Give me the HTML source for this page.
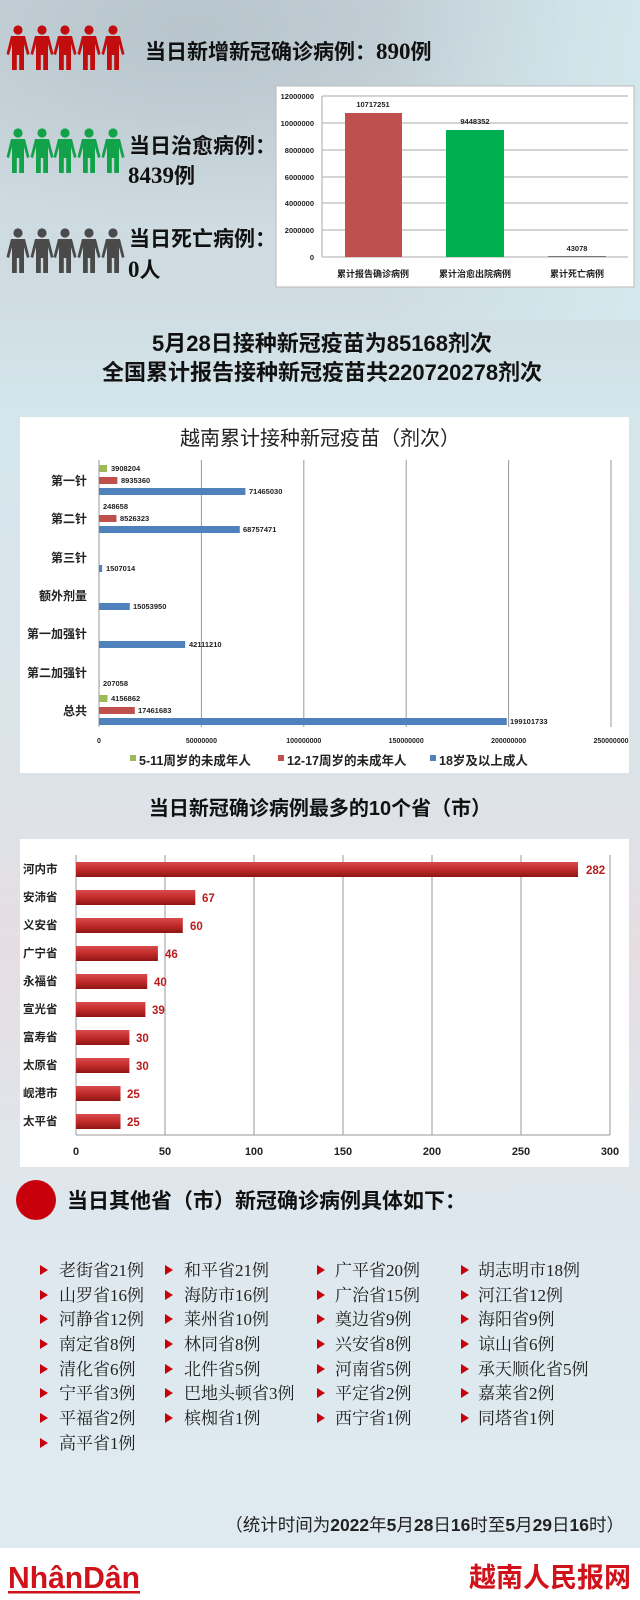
<!DOCTYPE html>
<html><head><meta charset="utf-8">
<style>
html,body{margin:0;padding:0}
body{width:640px;height:1600px;position:relative;overflow:hidden;
background:linear-gradient(180deg,#c9d6dc 0px,#cfdde2 300px,#d4e6ec 420px,#dde3e8 800px,#e6dde2 950px,#dfe6ec 1150px,#dde9ef 1350px,#dfeaf0 1548px);
font-family:"Liberation Sans","Noto Sans CJK SC",sans-serif}
svg{position:absolute;left:0;top:0}
</style></head><body>
<svg width="640" height="1600" viewBox="0 0 640 1600" xmlns="http://www.w3.org/2000/svg" font-family="Liberation Sans, Noto Sans CJK SC, sans-serif">
<defs>
<g id="p"><circle cx="0" cy="0" r="4.6"/><path d="M-7,6 L7,6 L11.5,24 L9,25 L6,14 L6,40 L1.2,40 L1.2,25 L-1.2,25 L-1.2,40 L-6,40 L-6,14 L-9,25 L-11.5,24 Z"/></g>
<linearGradient id="rb" x1="0" y1="0" x2="0" y2="1"><stop offset="0" stop-color="#d84a4a"/><stop offset="0.5" stop-color="#c32b2b"/><stop offset="1" stop-color="#8e1414"/></linearGradient>
<radialGradient id="bg1" cx="0.3" cy="0.1" r="0.6"><stop offset="0" stop-color="#aab8c0" stop-opacity="0.6"/><stop offset="1" stop-color="#aab8c0" stop-opacity="0"/></radialGradient>
<linearGradient id="bg2" x1="0" y1="0" x2="1" y2="0"><stop offset="0.6" stop-color="#d6eef2" stop-opacity="0"/><stop offset="1" stop-color="#d6eef2" stop-opacity="0.7"/></linearGradient>
</defs>
<rect x="0" y="0" width="640" height="320" fill="url(#bg1)"/>
<rect x="0" y="0" width="640" height="320" fill="url(#bg2)"/>

<g fill="#c10d0d">
<use href="#p" x="18" y="30"/><use href="#p" x="42" y="30"/><use href="#p" x="65" y="30"/><use href="#p" x="89" y="30"/><use href="#p" x="113" y="30"/></g>
<g fill="#12a34a">
<use href="#p" x="18" y="133"/><use href="#p" x="42" y="133"/><use href="#p" x="65" y="133"/><use href="#p" x="89" y="133"/><use href="#p" x="113" y="133"/></g>
<g fill="#4a4a4a">
<use href="#p" x="18" y="233"/><use href="#p" x="42" y="233"/><use href="#p" x="65" y="233"/><use href="#p" x="89" y="233"/><use href="#p" x="113" y="233"/></g>
<g font-weight="bold" fill="#111" font-size="21">
<text x="145" y="59">当日新增新冠确诊病例：<tspan font-family="Liberation Serif, serif" font-size="23">890</tspan>例</text>
<text x="129" y="153">当日治愈病例：</text>
<text x="128" y="183"><tspan font-family="Liberation Serif, serif" font-size="23">8439</tspan>例</text>
<text x="129" y="246">当日死亡病例：</text>
<text x="128" y="277"><tspan font-family="Liberation Serif, serif" font-size="23">0</tspan>人</text>
</g>

<rect x="276" y="86" width="358" height="201" fill="#fff" stroke="#bbb"/>
<g stroke="#aaa" stroke-width="1">
<line x1="322" y1="96" x2="628" y2="96"/><line x1="322" y1="123" x2="628" y2="123"/><line x1="322" y1="150" x2="628" y2="150"/><line x1="322" y1="177" x2="628" y2="177"/><line x1="322" y1="203" x2="628" y2="203"/><line x1="322" y1="230" x2="628" y2="230"/><line x1="322" y1="257" x2="628" y2="257"/>
<line x1="322" y1="96" x2="322" y2="257"/></g>
<rect x="345" y="113" width="57" height="144" fill="#c0504d"/>
<rect x="446" y="130" width="58" height="127" fill="#00b050"/>
<rect x="548" y="256" width="58" height="1" fill="#777"/>
<g font-size="7.5" font-weight="bold" text-anchor="end" fill="#222">
<text x="314" y="99">12000000</text><text x="314" y="126">10000000</text><text x="314" y="153">8000000</text><text x="314" y="180">6000000</text><text x="314" y="206">4000000</text><text x="314" y="233">2000000</text><text x="314" y="260">0</text></g>
<g font-size="7.5" font-weight="bold" text-anchor="middle" fill="#222">
<text x="373" y="107">10717251</text><text x="475" y="124">9448352</text><text x="577" y="251">43078</text></g>
<g font-size="9" font-weight="bold" text-anchor="middle" fill="#222">
<text x="373" y="277">累计报告确诊病例</text><text x="475" y="277">累计治愈出院病例</text><text x="577" y="277">累计死亡病例</text></g>

<g font-size="22" font-weight="bold" text-anchor="middle" fill="#111">
<text x="322" y="351">5月28日接种新冠疫苗为85168剂次</text>
<text x="322" y="380">全国累计报告接种新冠疫苗共220720278剂次</text></g>

<rect x="20" y="417" width="609" height="356" fill="#fff"/>
<text x="320" y="445" font-size="20" text-anchor="middle" fill="#222">越南累计接种新冠疫苗（剂次）</text>
<g stroke="#999" stroke-width="1">
<line x1="99" y1="460" x2="99" y2="727"/><line x1="201.4" y1="460" x2="201.4" y2="727"/><line x1="303.8" y1="460" x2="303.8" y2="727"/><line x1="406.2" y1="460" x2="406.2" y2="727"/><line x1="508.6" y1="460" x2="508.6" y2="727"/><line x1="611" y1="460" x2="611" y2="727"/></g>
<g font-size="12" font-weight="bold" text-anchor="end" fill="#222">
<text x="87" y="485">第一针</text><text x="87" y="523">第二针</text><text x="87" y="562">第三针</text><text x="87" y="600">额外剂量</text><text x="87" y="638">第一加强针</text><text x="87" y="677">第二加强针</text><text x="87" y="715">总共</text></g>
<g>
<rect x="99" y="465" width="8" height="7" fill="#9bbb59"/>
<rect x="99" y="477" width="18.3" height="7" fill="#c0504d"/>
<rect x="99" y="488" width="146.4" height="7" fill="#4f81bd"/>
<rect x="99" y="503" width="0.6" height="7" fill="#9bbb59"/>
<rect x="99" y="515" width="17.5" height="7" fill="#c0504d"/>
<rect x="99" y="526" width="140.8" height="7" fill="#4f81bd"/>
<rect x="99" y="565" width="3.1" height="7" fill="#4f81bd"/>
<rect x="99" y="603" width="30.8" height="7" fill="#4f81bd"/>
<rect x="99" y="641" width="86.2" height="7" fill="#4f81bd"/>
<rect x="99" y="680" width="0.5" height="7" fill="#4f81bd"/>
<rect x="99" y="695" width="8.5" height="7" fill="#9bbb59"/>
<rect x="99" y="707" width="35.8" height="7" fill="#c0504d"/>
<rect x="99" y="718" width="407.8" height="7" fill="#4f81bd"/>
</g>
<g font-size="7.5" font-weight="bold" fill="#222">
<text x="111" y="471">3908204</text><text x="121" y="483">8935360</text><text x="249" y="494">71465030</text>
<text x="103" y="509">248658</text><text x="120" y="521">8526323</text><text x="243" y="532">68757471</text>
<text x="106" y="571">1507014</text><text x="133" y="609">15053950</text><text x="189" y="647">42111210</text>
<text x="103" y="686">207058</text><text x="111" y="701">4156862</text><text x="138" y="713">17461683</text><text x="510" y="724">199101733</text></g>
<g font-size="7" font-weight="bold" text-anchor="middle" fill="#222">
<text x="99" y="743">0</text><text x="201.4" y="743">50000000</text><text x="303.8" y="743">100000000</text><text x="406.2" y="743">150000000</text><text x="508.6" y="743">200000000</text><text x="611" y="743">250000000</text></g>
<g font-size="12.5" font-weight="bold" fill="#222">
<rect x="130" y="755" width="6" height="6" fill="#9bbb59"/><text x="139" y="765">5-11周岁的未成年人</text>
<rect x="278" y="755" width="6" height="6" fill="#c0504d"/><text x="287" y="765">12-17周岁的未成年人</text>
<rect x="430" y="755" width="6" height="6" fill="#4f81bd"/><text x="439" y="765">18岁及以上成人</text></g>

<text x="320" y="815" font-size="20" font-weight="bold" text-anchor="middle" fill="#111">当日新冠确诊病例最多的10个省（市）</text>
<rect x="20" y="839" width="609" height="328" fill="#fff"/>
<g stroke="#999" stroke-width="1">
<line x1="76" y1="855" x2="76" y2="1135"/><line x1="165" y1="855" x2="165" y2="1135"/><line x1="254" y1="855" x2="254" y2="1135"/><line x1="343" y1="855" x2="343" y2="1135"/><line x1="432" y1="855" x2="432" y2="1135"/><line x1="521" y1="855" x2="521" y2="1135"/><line x1="610" y1="855" x2="610" y2="1135"/><line x1="76" y1="1135" x2="610" y2="1135"/></g>
<g fill="url(#rb)">
<rect x="76" y="862" width="502" height="15"/>
<rect x="76" y="890" width="119.3" height="15"/>
<rect x="76" y="918" width="106.8" height="15"/>
<rect x="76" y="946" width="81.9" height="15"/>
<rect x="76" y="974" width="71.2" height="15"/>
<rect x="76" y="1002" width="69.4" height="15"/>
<rect x="76" y="1030" width="53.4" height="15"/>
<rect x="76" y="1058" width="53.4" height="15"/>
<rect x="76" y="1086" width="44.5" height="15"/>
<rect x="76" y="1114" width="44.5" height="15"/></g>
<g font-size="11.5" font-weight="bold" fill="#222">
<text x="23" y="873">河内市</text><text x="23" y="901">安沛省</text><text x="23" y="929">义安省</text><text x="23" y="957">广宁省</text><text x="23" y="985">永福省</text><text x="23" y="1013">宣光省</text><text x="23" y="1041">富寿省</text><text x="23" y="1069">太原省</text><text x="23" y="1097">岘港市</text><text x="23" y="1125">太平省</text></g>
<g font-size="11.5" font-weight="bold" fill="#b81c1c">
<text x="586" y="874">282</text><text x="202" y="902">67</text><text x="190" y="930">60</text><text x="165" y="958">46</text><text x="154" y="986">40</text><text x="152" y="1014">39</text><text x="136" y="1042">30</text><text x="136" y="1070">30</text><text x="127" y="1098">25</text><text x="127" y="1126">25</text></g>
<g font-size="11" font-weight="bold" text-anchor="middle" fill="#222">
<text x="76" y="1155">0</text><text x="165" y="1155">50</text><text x="254" y="1155">100</text><text x="343" y="1155">150</text><text x="432" y="1155">200</text><text x="521" y="1155">250</text><text x="610" y="1155">300</text></g>

<circle cx="36" cy="1200" r="20" fill="#c8000b"/>
<text x="67" y="1208" font-size="21" font-weight="bold" fill="#111">当日其他省（市）新冠确诊病例具体如下：</text>
<g fill="#c8000b">
<path d="M40,1265 l8,5 l-8,5z M165,1265 l8,5 l-8,5z M317,1265 l8,5 l-8,5z M461,1265 l8,5 l-8,5z"/>
<path d="M40,1290 l8,5 l-8,5z M165,1290 l8,5 l-8,5z M317,1290 l8,5 l-8,5z M461,1290 l8,5 l-8,5z"/>
<path d="M40,1314 l8,5 l-8,5z M165,1314 l8,5 l-8,5z M317,1314 l8,5 l-8,5z M461,1314 l8,5 l-8,5z"/>
<path d="M40,1339 l8,5 l-8,5z M165,1339 l8,5 l-8,5z M317,1339 l8,5 l-8,5z M461,1339 l8,5 l-8,5z"/>
<path d="M40,1364 l8,5 l-8,5z M165,1364 l8,5 l-8,5z M317,1364 l8,5 l-8,5z M461,1364 l8,5 l-8,5z"/>
<path d="M40,1388 l8,5 l-8,5z M165,1388 l8,5 l-8,5z M317,1388 l8,5 l-8,5z M461,1388 l8,5 l-8,5z"/>
<path d="M40,1413 l8,5 l-8,5z M165,1413 l8,5 l-8,5z M317,1413 l8,5 l-8,5z M461,1413 l8,5 l-8,5z"/>
<path d="M40,1438 l8,5 l-8,5z"/></g>
<g font-size="17" fill="#222" font-family="Liberation Serif, Noto Serif CJK SC, serif">
<text x="59" y="1276">老街省21例</text><text x="184" y="1276">和平省21例</text><text x="335" y="1276">广平省20例</text><text x="478" y="1276">胡志明市18例</text>
<text x="59" y="1301">山罗省16例</text><text x="184" y="1301">海防市16例</text><text x="335" y="1301">广治省15例</text><text x="478" y="1301">河江省12例</text>
<text x="59" y="1325">河静省12例</text><text x="184" y="1325">莱州省10例</text><text x="335" y="1325">奠边省9例</text><text x="478" y="1325">海阳省9例</text>
<text x="59" y="1350">南定省8例</text><text x="184" y="1350">林同省8例</text><text x="335" y="1350">兴安省8例</text><text x="478" y="1350">谅山省6例</text>
<text x="59" y="1375">清化省6例</text><text x="184" y="1375">北件省5例</text><text x="335" y="1375">河南省5例</text><text x="478" y="1375">承天顺化省5例</text>
<text x="59" y="1399">宁平省3例</text><text x="184" y="1399">巴地头顿省3例</text><text x="335" y="1399">平定省2例</text><text x="478" y="1399">嘉莱省2例</text>
<text x="59" y="1424">平福省2例</text><text x="184" y="1424">槟椥省1例</text><text x="335" y="1424">西宁省1例</text><text x="478" y="1424">同塔省1例</text>
<text x="59" y="1449">高平省1例</text></g>
<text x="624" y="1531" font-size="17.5" text-anchor="end" fill="#222">（统计时间为<tspan font-weight="bold">2022</tspan>年<tspan font-weight="bold">5</tspan>月<tspan font-weight="bold">28</tspan>日<tspan font-weight="bold">16</tspan>时至<tspan font-weight="bold">5</tspan>月<tspan font-weight="bold">29</tspan>日<tspan font-weight="bold">16</tspan>时）</text>

<rect x="0" y="1548" width="640" height="52" fill="#fff"/>
<text x="8" y="1588" font-size="31" font-weight="bold" fill="#d0121b" textLength="132" lengthAdjust="spacingAndGlyphs">NhânDân</text>
<rect x="8" y="1591" width="132" height="2.5" fill="#d0121b"/>
<text x="631" y="1587" font-size="27" font-weight="bold" text-anchor="end" fill="#d0121b">越南人民报网</text>
</svg>
</body></html>
